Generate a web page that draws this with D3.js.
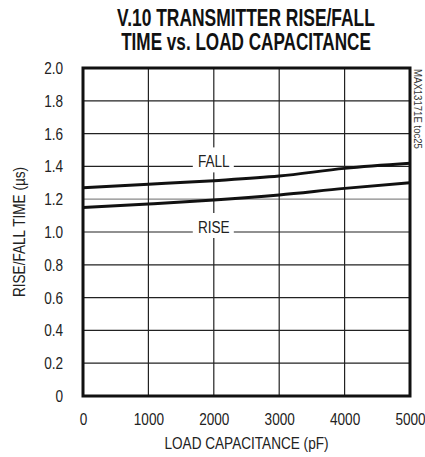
<!DOCTYPE html>
<html>
<head>
<meta charset="utf-8">
<script src="https://cdn.jsdelivr.net/npm/d3@7"></script>
<style>
  html, body { margin: 0; padding: 0; background: #fff; }
  svg text { font-family: 'Liberation Sans', Arial, sans-serif; fill: #222; }
</style>
</head>
<body>
<script>
var capacitance = [0, 1000, 2000, 3000, 4000, 5000];
var fallTime    = [1.27, 1.291, 1.313, 1.341, 1.388, 1.419];
var riseTime    = [1.15, 1.171, 1.195, 1.226, 1.266, 1.30];
var xTicks = [0, 1000, 2000, 3000, 4000, 5000];
var yTicks = [0, 0.2, 0.4, 0.6, 0.8, 1.0, 1.2, 1.4, 1.6, 1.8, 2.0];
var titleLines = ['V.10 TRANSMITTER RISE/FALL', 'TIME vs. LOAD CAPACITANCE'];

var w = 425,
    h = 457;

var plotL = 83,
    plotR = 410,
    plotT = 68,
    plotB = 396;

var SX = 0.8; // horizontal squeeze to mimic a condensed face

var svg = d3.select('body').append('svg')
  .attr('width', w)
  .attr('height', h);

var x = d3.scaleLinear().domain([0, 5000]).range([plotL, plotR]);
var y = d3.scaleLinear().domain([0, 2]).range([plotB, plotT]);

// title, squeezed to the width it has in the original
var titleWidths = [258, 250];
svg.selectAll('.title')
  .data(titleLines)
  .enter()
  .append('text')
    .attr('text-anchor', 'middle')
    .style('font-size', '23px')
    .style('font-weight', 'bold')
    .style('fill', '#111')
    .text(function(d) { return d; })
    .attr('transform', function(d, i) {
      var k = titleWidths[i] / this.getComputedTextLength();
      return 'translate(246,' + (26 + i * 24) + ') scale(' + k + ',1)';
    });

// grid
var grid = svg.append('g');

grid.selectAll('.hgrid')
  .data(yTicks.slice(1, -1))
  .enter()
  .append('line')
    .attr('x1', plotL)
    .attr('x2', plotR)
    .attr('y1', function(d) { return y(d); })
    .attr('y2', function(d) { return y(d); })
    .attr('stroke', function(d) { return d === 1.2 ? '#888' : '#222'; })
    .attr('stroke-width', 1.2);

grid.selectAll('.vgrid')
  .data(xTicks.slice(1, -1))
  .enter()
  .append('line')
    .attr('x1', function(d) { return x(d); })
    .attr('x2', function(d) { return x(d); })
    .attr('y1', plotT)
    .attr('y2', plotB)
    .attr('stroke', '#222')
    .attr('stroke-width', 1.2);

// curve labels with white backing over the grid
var curveLabels = [
  { text: 'FALL', at: 2000, value: 1.4 },
  { text: 'RISE', at: 2000, value: 1.0 }
];

var lab = svg.append('g').selectAll('.curveLabel')
  .data(curveLabels)
  .enter()
  .append('g');

lab.append('rect')
  .attr('x', function(d) { return x(d.at) - 21; })
  .attr('y', function(d) { return y(d.value) - 19; })
  .attr('width', 41)
  .attr('height', 25)
  .attr('fill', '#fff');

lab.append('text')
  .attr('transform', function(d) {
    return 'translate(' + x(d.at) + ',' + (y(d.value) + 1) + ') scale(' + SX + ',1)';
  })
  .attr('text-anchor', 'middle')
  .style('font-size', '17px')
  .text(function(d) { return d.text; });

// curves
var line = d3.line()
  .x(function(d) { return x(d[0]); })
  .y(function(d) { return y(d[1]); })
  .curve(d3.curveMonotoneX);

[fallTime, riseTime].forEach(function(series) {
  svg.append('path')
    .datum(d3.zip(capacitance, series))
    .attr('d', line)
    .attr('fill', 'none')
    .attr('stroke', '#111')
    .attr('stroke-width', 3);
});

// frame
svg.append('rect')
  .attr('x', plotL)
  .attr('y', plotT)
  .attr('width', plotR - plotL)
  .attr('height', plotB - plotT)
  .attr('fill', 'none')
  .attr('stroke', '#111')
  .attr('stroke-width', 3);

// axes
var yAxis = d3.axisLeft(y)
  .tickValues(yTicks)
  .tickSize(0)
  .tickPadding(20 / SX)
  .tickFormat(function(d) { return d === 0 ? '0' : d3.format('.1f')(d); });

var xAxis = d3.axisBottom(x)
  .tickValues(xTicks)
  .tickSize(0)
  .tickPadding(17)
  .tickFormat(d3.format('d'));

svg.append('g')
  .attr('transform', 'translate(' + plotL + ',0)')
  .call(yAxis)
  .call(function(g) { g.select('.domain').remove(); });

svg.append('g')
  .attr('transform', 'translate(0,' + plotB + ')')
  .call(xAxis)
  .call(function(g) { g.select('.domain').remove(); });

svg.selectAll('.tick text')
  .attr('transform', 'scale(' + SX + ',1)')
  .style('font-size', '17px')
  .attr('font-family', null)
  .attr('fill', '#222');

// axis titles
svg.append('text')
  .attr('transform', 'translate(25,' + ((plotT + plotB) / 2) + ') rotate(-90) scale(' + SX + ',1)')
  .attr('text-anchor', 'middle')
  .style('font-size', '17px')
  .text('RISE/FALL TIME (\u00b5s)');

svg.append('text')
  .attr('transform', 'translate(' + ((plotL + plotR) / 2) + ',449) scale(' + SX + ',1)')
  .attr('text-anchor', 'middle')
  .style('font-size', '17px')
  .text('LOAD CAPACITANCE (pF)');

// part number tag
svg.append('text')
  .style('font-size', '11px')
  .style('fill', '#333')
  .text('MAX13171E toc25')
  .attr('transform', function() {
    var k = 80 / this.getComputedTextLength();
    return 'translate(414,69) rotate(90) scale(' + k + ',1)';
  });
</script>
</body>
</html>
